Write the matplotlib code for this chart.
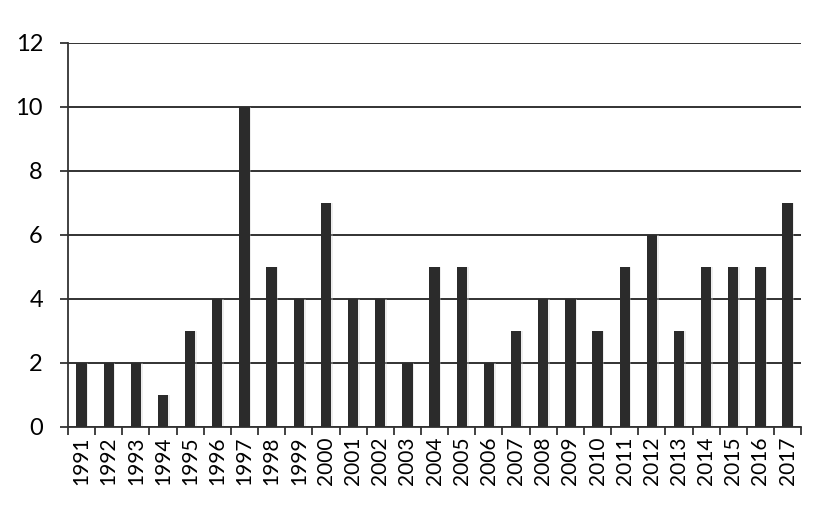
import numpy as np
import matplotlib.pyplot as plt

years = [str(y) for y in range(1991, 2018)]
counts = [2, 2, 2, 1, 3, 4, 10, 5, 4, 7, 4, 4, 2, 5, 5, 2, 3, 4, 4, 3, 5, 6, 3, 5, 5, 5, 7]

plt.rcParams['font.family'] = ['Lato', 'DejaVu Sans']

fig = plt.figure(figsize=(8.37, 5.22), dpi=100)
ax = fig.add_axes([0.0812, 0.182, 0.876, 0.736])

x = np.arange(len(years))
# faint shadow then bar
ax.bar(x + 0.06, counts, width=0.38, color='#cccccc', alpha=0.35, zorder=2)
ax.bar(x, counts, width=0.38, color='#2b2b2b', zorder=3)

ax.set_xlim(-0.5, len(years) - 0.5)
ax.set_ylim(0, 12)
ax.set_yticks(range(0, 13, 2))
ax.yaxis.grid(True, color='#222222', linewidth=1.3, zorder=1)
ax.set_axisbelow(True)

ax.set_xticks(x)
ax.set_xticklabels(years, rotation=90, fontsize=15)
ax.tick_params(axis='x', length=0, pad=7)
ax.set_xticks(np.arange(-0.5, len(years)), minor=True)
ax.tick_params(axis='x', which='minor', length=6, width=1.3, color='#333333')
ax.tick_params(axis='y', length=6, width=1.3, color='#333333', labelsize=17, pad=12)

for s in ['top', 'right']:
    ax.spines[s].set_visible(False)
for s in ['left', 'bottom']:
    ax.spines[s].set_linewidth(1.3)
    ax.spines[s].set_color('#333333')

fig.savefig('out.png', dpi=100)
